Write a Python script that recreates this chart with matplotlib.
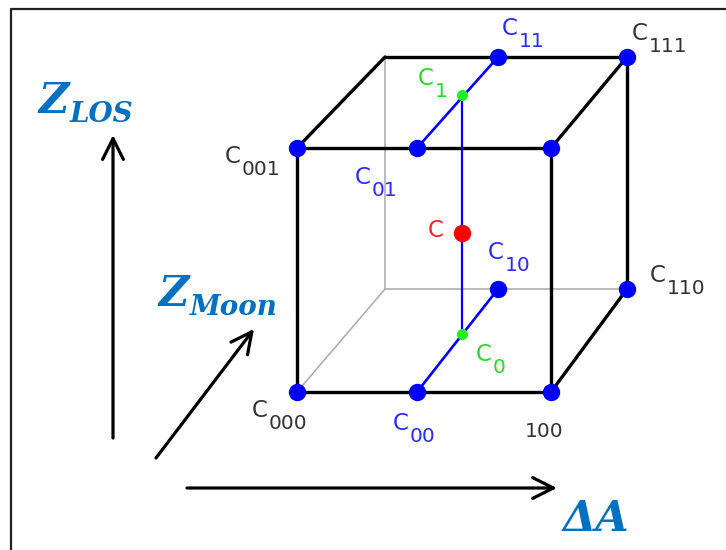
import matplotlib.pyplot as plt

# --------------------------------------------------------------
# datos del diagrama (coordenadas en pixeles de la imagen)
# --------------------------------------------------------------

# vertices del cubo
cube_names = ["C000", "100", "C101", "C001", "B011", "C111", "C110", "B010"]
cube_x = [297, 551, 551, 297, 385, 627, 627, 385]
cube_y = [392, 392, 148, 148, 57, 57, 289, 289]

# aristas negras visibles y grises ocultas (indices de vertices)
black_edges = [(0, 1), (1, 2), (2, 3), (3, 0), (3, 4), (4, 5), (5, 2), (5, 6), (6, 1)]
gray_edges = [(4, 7), (7, 6), (7, 0)]

# puntos de interpolacion (azules)
interp_names = ["C00", "C10", "C01", "C11"]
interp_x = [417, 498, 417, 498]
interp_y = [392, 289, 148, 57]

# puntos verdes C0, C1 y rojo C
c0_xy = (462, 334)
c1_xy = (462, 95)
c_xy = (462, 233)

# etiquetas: (texto base, subindice, x, y, color)
labels = [
    ("C", "001", 225, 163, "#333333"),
    ("C", "000", 252, 417, "#333333"),
    ("", "100", 525, 437, "#333333"),
    ("C", "111", 632, 40, "#333333"),
    ("C", "110", 650, 282, "#333333"),
    ("C", "11", 502, 35, "#2a2aff"),
    ("C", "01", 355, 184, "#2a2aff"),
    ("C", "10", 488, 259, "#2a2aff"),
    ("C", "00", 393, 430, "#2a2aff"),
    ("C", "1", 418, 85, "#22dd22"),
    ("C", "0", 476, 361, "#22dd22"),
    ("C", "", 428, 237, "#ff2222"),
]

BLUE = "#0000ff"
AXBLUE = "#0070c0"

# --------------------------------------------------------------
# figura
# --------------------------------------------------------------

fig = plt.figure(figsize=(7.26, 5.5), dpi=100)
ax = fig.add_axes([0, 0, 1, 1])
ax.set_xlim(0, 726)
ax.set_ylim(550, 0)
ax.axis("off")

# marco (solo arriba e izquierda)
ax.plot([11, 11, 726], [550, 9, 9], color="#222222", lw=1.6, zorder=1)

# aristas del cubo
for i, j in gray_edges:
    ax.plot([cube_x[i], cube_x[j]], [cube_y[i], cube_y[j]], color="#b0b0b0", lw=1.2, zorder=2)
for i, j in black_edges:
    ax.plot([cube_x[i], cube_x[j]], [cube_y[i], cube_y[j]], color="black", lw=2.4,
            solid_capstyle="round", zorder=3)

# lineas azules de interpolacion
ax.plot([interp_x[0], interp_x[1]], [interp_y[0], interp_y[1]], color=BLUE, lw=1.9, zorder=4)
ax.plot([interp_x[2], interp_x[3]], [interp_y[2], interp_y[3]], color=BLUE, lw=1.9, zorder=4)
ax.plot([c1_xy[0], c0_xy[0]], [c1_xy[1], c0_xy[1]], color=BLUE, lw=1.6, zorder=4)

# puntos
blue_idx = [0, 1, 2, 3, 5, 6]
ax.plot([cube_x[k] for k in blue_idx], [cube_y[k] for k in blue_idx], "o",
        color=BLUE, ms=11.5, zorder=5)
ax.plot(interp_x, interp_y, "o", color=BLUE, ms=11.5, zorder=5)
ax.plot([c0_xy[0], c1_xy[0]], [c0_xy[1], c1_xy[1]], "o", color="#22ee22", ms=7, zorder=6)
ax.plot(c_xy[0], c_xy[1], "o", color="red", ms=11.5, zorder=6)

# etiquetas de los puntos
for base, sub, x, y, col in labels:
    if base:
        ax.text(x, y, base, fontsize=16.5, color=col, ha="left", va="baseline",
                family="DejaVu Sans")
        ax.text(x + 17, y + 12, sub, fontsize=14.5, color=col, ha="left", va="baseline",
                family="DejaVu Sans")
    else:
        ax.text(x, y, sub, fontsize=14.5, color=col, ha="left", va="baseline",
                family="DejaVu Sans")

# flechas de los ejes
arrow = dict(arrowstyle="->,head_length=0.6,head_width=0.3", lw=2.3, color="black",
             mutation_scale=25, shrinkA=0, shrinkB=0)
ax.annotate("", xy=(113, 135), xytext=(113, 438), arrowprops=arrow)
ax.annotate("", xy=(254, 329), xytext=(156, 458), arrowprops=arrow)
ax.annotate("", xy=(557, 488), xytext=(187, 488), arrowprops=arrow)

# nombres de los ejes
serif = dict(family="DejaVu Serif", weight="bold", style="italic", color=AXBLUE,
             va="baseline", ha="left")
ax.text(38, 113, "Z", fontsize=30, **serif)
ax.text(70, 122, "LOS", fontsize=20, **serif)
ax.text(158, 306, "Z", fontsize=30, **serif)
ax.text(190, 315, "Moon", fontsize=20, **serif)
ax.text(563, 531, "ΔA", fontsize=31, **serif)

plt.savefig("out.png", dpi=100)
